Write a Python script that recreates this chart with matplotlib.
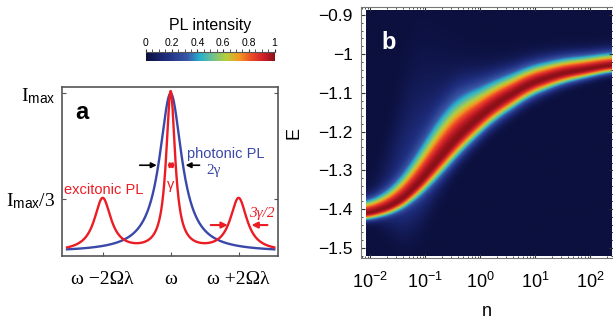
import numpy as np
import matplotlib
matplotlib.use('Agg')
import matplotlib.pyplot as plt
from matplotlib.colors import LinearSegmentedColormap
from matplotlib.ticker import FixedLocator, MultipleLocator

plt.rcParams['font.family'] = 'Liberation Sans'
plt.rcParams['mathtext.fontset'] = 'custom'
plt.rcParams['mathtext.rm'] = 'Liberation Serif'
plt.rcParams['mathtext.it'] = 'Liberation Serif:italic'
plt.rcParams['mathtext.sf'] = 'Liberation Sans'

# ---- panel a: Lorentzian line shapes, centres in units of 2*Omega*lambda
exc_pos = [-2.0, 0.0, 2.0]
exc_height = [1 / 3, 1.0, 1 / 3]
exc_hwhm = [0.30, 0.16, 0.30]
pho_pos = [0.0]
pho_height = [1.0]
pho_hwhm = [0.40]
a_xticks = [-2, 0, 2]
a_xlabels = ['ω −2Ωλ', 'ω', 'ω +2Ωλ']
a_yticks = [1 / 3, 1.0]
a_ylabels = [r'$\mathrm{I}_{\mathsf{max}}\mathrm{/3}$', r'$\mathrm{I}_{\mathsf{max}}$']

# ---- panel b: PL map, ridge and widths (log10 n, E)
ridge_logn = [-2.1, -1.8, -1.55, -1.24, -0.93, -0.62, -0.32, 0.0, 0.27, 0.5, 0.89, 1.49, 2.0, 2.4]
ridge_E = [-1.415, -1.402, -1.390, -1.355, -1.305, -1.250, -1.203, -1.163, -1.130,
           -1.112, -1.077, -1.050, -1.038, -1.028]
width_up = [0.030, 0.035, 0.045, 0.062, 0.082, 0.095, 0.090, 0.070, 0.060, 0.053,
            0.044, 0.037, 0.033, 0.031]
width_down = [0.016, 0.018, 0.020, 0.026, 0.035, 0.043, 0.044, 0.042, 0.040, 0.038,
              0.034, 0.026, 0.021, 0.018]
halo_height = [0.05, 0.10, 0.16, 0.20, 0.20, 0.18, 0.15, 0.12, 0.10, 0.09, 0.08,
               0.07, 0.06, 0.05]
halo_width = [0.05, 0.10, 0.18, 0.25, 0.22, 0.18, 0.14, 0.11, 0.09, 0.08, 0.07,
              0.06, 0.05, 0.05]
b_yticks = [-1.5, -1.4, -1.3, -1.2, -1.1, -1.0, -0.9]
b_ylabels = ['−1.5', '−1.4', '−1.3', '−1.2', '−1.1', '−1', '−0.9']
b_xticks = [-2, -1, 0, 1, 2]
b_xlabels = [r'$\mathsf{10^{-2}}$', r'$\mathsf{10^{-1}}$', r'$\mathsf{10^{0}}$',
             r'$\mathsf{10^{1}}$', r'$\mathsf{10^{2}}$']
cb_ticks = [0, 0.2, 0.4, 0.6, 0.8, 1]
cb_labels = ['0', '0.2', '0.4', '0.6', '0.8', '1']

pl_colors = ['#0c103e', '#1e2c7c', '#3a58a8', '#27b2cd', '#74c08c',
             '#b4cf3b', '#f39a22', '#eb4a26', '#d0202a', '#8c1018']
pl_stops = [0.0, 0.15, 0.32, 0.42, 0.52, 0.62, 0.72, 0.82, 0.91, 1.0]
cmap = LinearSegmentedColormap.from_list('pl', list(zip(pl_stops, pl_colors)))

red = '#ec1c24'
blue = '#3a48a8'
frame = '#555555'

fig = plt.figure(figsize=(6.13, 3.25), dpi=100)

# ===== panel a
ax = fig.add_axes([0.101, 0.2123, 0.352, 0.52])
x = np.linspace(-3.05, 3.05, 800)
exc = sum(h / (1 + ((x - c) / w) ** 2) for c, h, w in zip(exc_pos, exc_height, exc_hwhm))
pho = sum(h / (1 + ((x - c) / w) ** 2) for c, h, w in zip(pho_pos, pho_height, pho_hwhm))
ax.plot(x, pho, color=blue, lw=1.7)
ax.plot(x, exc, color=red, lw=1.7)
ax.set_xlim(-3.2, 3.15)
ax.set_ylim(-0.025, 1.04)
ax.set_xticks(a_xticks)
ax.set_xticklabels(a_xlabels, family='Liberation Serif', fontsize=14)
ax.set_yticks(a_yticks)
ax.set_yticklabels(a_ylabels, fontsize=14)
ax.tick_params(direction='in', length=3, color=frame, right=True)
ax.tick_params(axis='x', pad=11)
ax.tick_params(axis='y', pad=5)
for s in ax.spines.values():
    s.set_color(frame)
    s.set_linewidth(1.2)

ax.text(-2.62, 0.88, 'a', fontsize=17, fontweight='bold', ha='center', va='center')
ax.text(0.47, 0.62, 'photonic PL', color=blue, fontsize=10.5, va='center')
ax.text(1.06, 0.515, '2γ', color=blue, family='Liberation Serif', fontsize=11, va='center')
ax.text(-3.15, 0.39, 'excitonic PL', color=red, fontsize=10.5, va='center')
ax.text(0.0, 0.42, 'γ', color=red, fontsize=10.5, ha='center', va='center')
ax.text(2.32, 0.245, '3γ/2', color=red, family='Liberation Serif', fontsize=11,
        style='italic', va='center')

arr_k = dict(arrowstyle='-|>', color='black', lw=1.2, mutation_scale=8, shrinkA=0, shrinkB=0)
arr_r = dict(arrowstyle='-|>', color=red, lw=1.5, mutation_scale=9, shrinkA=0, shrinkB=0)
ax.annotate('', xy=(-0.41, 0.547), xytext=(-0.91, 0.547), arrowprops=arr_k)
ax.annotate('', xy=(0.44, 0.547), xytext=(0.85, 0.547), arrowprops=arr_k)
ax.annotate('', xy=(0.15, 0.547), xytext=(-0.12, 0.547),
            arrowprops=dict(arrowstyle='<|-|>', color=red, lw=1.5, mutation_scale=7,
                            shrinkA=0, shrinkB=0))
ax.annotate('', xy=(1.68, 0.17), xytext=(1.18, 0.17), arrowprops=arr_r)
ax.annotate('', xy=(2.38, 0.17), xytext=(2.85, 0.17), arrowprops=arr_r)

# ===== colorbar
cax = fig.add_axes([0.238, 0.812, 0.21, 0.0277])
grad = np.linspace(0, 1, 256)[None, :]
cax.imshow(grad, cmap=cmap, aspect='auto', extent=[0, 1, 0, 1])
cax.set_yticks([])
cax.xaxis.set_ticks_position('top')
cax.set_xticks(cb_ticks)
cax.set_xticklabels(cb_labels, fontsize=7.5)
cax.xaxis.set_minor_locator(MultipleLocator(0.05))
cax.tick_params(axis='x', which='both', length=2, pad=1, color='#333333')
for k in ['left', 'right', 'bottom']:
    cax.spines[k].set_visible(False)
cax.spines['top'].set_color('#555555')
cax.set_title('PL intensity', fontsize=11.5, pad=5.5)

# ===== panel b
bx = fig.add_axes([0.589, 0.2062, 0.411, 0.772])
lx = np.linspace(-2.073, 2.4, 500)
ey = np.linspace(-1.521, -0.887, 400)


def smooth_profile(vals):
    # piecewise-linear through the read values, then a short moving average
    v = np.interp(lx, ridge_logn, vals)
    k = 51
    vp = np.pad(v, k // 2, mode='edge')
    return np.convolve(vp, np.ones(k) / k, mode='valid')


E0 = smooth_profile(ridge_E)[None, :]
wu = smooth_profile(width_up)[None, :]
wd = smooth_profile(width_down)[None, :]
hh = smooth_profile(halo_height)[None, :]
hw = smooth_profile(halo_width)[None, :]
d = ey[:, None] - E0
core = np.where(d > 0, np.exp(-(d / wu) ** 2), np.exp(-(d / wd) ** 2))
halo = np.where(d > 0, hh * np.exp(-(d / hw) ** 2), hh * np.exp(-(d / (0.4 * hw)) ** 2))
pl = np.clip(core + halo * (1 - core), 0, 1)
bx.imshow(pl, cmap=cmap, vmin=0, vmax=1, origin='lower', aspect='auto',
          extent=[lx[0], lx[-1], ey[0], ey[-1]], interpolation='bilinear')
bx.set_xlim(-2.164, 2.418)
bx.set_ylim(-1.526, -0.879)
bx.set_yticks(b_yticks)
bx.set_yticklabels(b_ylabels, fontsize=12.5)
bx.yaxis.set_minor_locator(MultipleLocator(0.02))
bx.set_xticks(b_xticks)
bx.set_xticklabels(b_xlabels, fontsize=13)
minor_x = [k + np.log10(m) for k in range(-3, 3) for m in range(2, 10)]
bx.xaxis.set_minor_locator(FixedLocator(minor_x))
bx.tick_params(which='both', direction='in', color='#333333', top=True, right=True)
bx.tick_params(which='major', length=3)
bx.tick_params(which='minor', length=1.5)
bx.tick_params(axis='x', pad=10)
bx.tick_params(axis='y', pad=6)
for s in bx.spines.values():
    s.set_color('#777777')
    s.set_linewidth(0.8)
bx.set_xlabel('n', fontsize=13, labelpad=8)
bx.set_ylabel('E', fontsize=13, labelpad=11)
bx.text(-1.67, -0.97, 'b', color='white', fontsize=17, fontweight='bold',
        ha='center', va='center')

fig.savefig('out.png', dpi=100)
